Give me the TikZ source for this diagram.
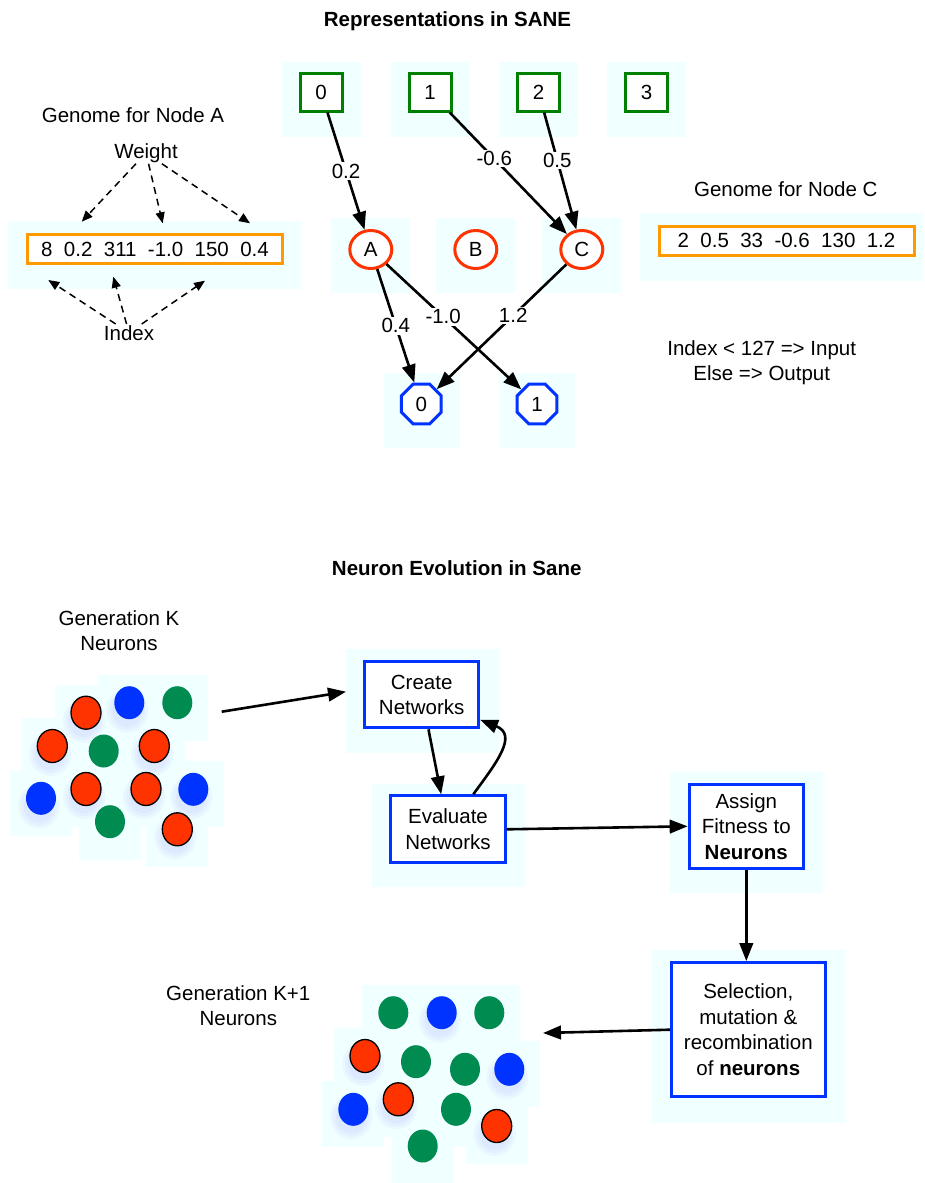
\documentclass[tikz,border=0pt]{standalone}
\usepackage{fontspec}
\setmainfont{Liberation Sans}
\usetikzlibrary{arrows.meta,shapes.geometric}
\definecolor{bgc}{RGB}{240,255,255}
\definecolor{ingreen}{RGB}{0,128,0}
\definecolor{hidred}{RGB}{255,51,0}
\definecolor{outblue}{RGB}{0,51,255}
\definecolor{genorange}{RGB}{255,153,0}
\definecolor{nred}{RGB}{255,51,0}
\definecolor{nblue}{RGB}{0,51,255}
\definecolor{ngreen}{RGB}{0,140,80}
\definecolor{glow}{RGB}{185,190,255}
\begin{document}
\begin{tikzpicture}[x=1pt,y=-1pt,
  every node/.style={font=\fontsize{20.5}{25.5}\selectfont},
  txt/.style={anchor=base,inner sep=1pt},
  ttl/.style={anchor=base,inner sep=1pt,font=\fontsize{20.5}{25.5}\selectfont\bfseries},
  bgbox/.style={rectangle,fill=bgc,draw=none,inner sep=0,outer sep=0},
  insq/.style={rectangle,draw=ingreen,line width=3pt,fill=white,minimum width=42,minimum height=38,inner sep=0},
  hidn/.style={ellipse,draw=hidred,line width=3pt,fill=white,minimum width=42,minimum height=38,inner sep=0},
  outn/.style={regular polygon,regular polygon sides=8,draw=outblue,line width=3pt,fill=white,minimum size=43,inner sep=0},
  genome/.style={rectangle,draw=genorange,line width=3pt,fill=white,minimum width=255,minimum height=29,inner sep=0},
  procbox/.style={rectangle,draw=outblue,line width=3pt,fill=white,align=center,inner sep=0},
  neuron/.style={ellipse,minimum width=30,minimum height=33,inner sep=0},
  wlab/.style={fill=white,inner sep=1.5pt},
  mainarrow/.style={line width=2.6pt,-{Triangle[length=18pt,width=13.5pt]}},
  dasharrow/.style={line width=1.5pt,dash pattern=on 7pt off 5pt,-{Triangle[length=11pt,width=9pt]}}
]
\useasboundingbox (0,0) rectangle (924,1183);

% ---------- titles ----------
\node[ttl] (t1) at (447.5,26.7) {Representations in SANE};
\node[ttl] (t2) at (456.7,575) {Neuron Evolution in Sane};

% ---------- light backgrounds of the network ----------
\foreach \x [count=\i from 0] in {321,430,538.5,646.5}
  \node[bgbox,minimum width=79,minimum height=75] (sqbg\i) at (\x,99.2) {};
\foreach \x/\n in {370.8/A,475.8/B,581.8/C}
  \node[bgbox,minimum width=79,minimum height=75] (hbg\n) at (\x,255.5) {};
\node[bgbox,minimum width=76,minimum height=75] (obg0) at (422,410.5) {};
\node[bgbox,minimum width=76,minimum height=75] (obg1) at (537,410.5) {};
\node[bgbox,minimum width=292.4,minimum height=68.3] (gAbg) at (154.5,255.2) {};
\node[bgbox,minimum width=283.3,minimum height=68] (gCbg) at (781.7,246.7) {};

% ---------- network nodes ----------
\foreach \x [count=\i from 0] in {321,430,538.5,646.5}
  \node[insq] (in\i) at (\x,92) {\i};
\node[hidn] (A) at (370.8,249.5) {A};
\node[hidn] (B) at (475.8,249.5) {B};
\node[hidn] (C) at (581.8,249.5) {C};
\node[outn] (out0) at (421.3,404) {0};
\node[outn] (out1) at (537,404) {1};

% ---------- network connections ----------
\draw[mainarrow] (in0) -- node[wlab,pos=0.5] {0.2} (A);
\draw[mainarrow] (in1) -- node[wlab,pos=0.38] {-0.6} (C);
\draw[mainarrow] (in2) -- node[wlab,pos=0.41] {0.5} (C);
\draw[mainarrow] (A) -- node[wlab,pos=0.5] {0.4} (out0);
\draw[mainarrow] (A) -- node[wlab,pos=0.42] {-1.0} (out1);
\draw[mainarrow] (C) -- node[wlab,pos=0.41] {1.2} (out0);

% ---------- genome of node A ----------
\node[txt] (gAt) at (133,122.3) {Genome for Node A};
\node[genome] (gA) at (155,249) {8~~0.2~~311~~-1.0~~150~~0.4};
\node[txt] (w) at (146,158.3) {Weight};
\node[txt] (idx) at (129,340) {Index};
\coordinate (w1) at (81.7,221.7);
\coordinate (w2) at (162.7,223.3);
\coordinate (w3) at (250,223.3);
\coordinate (i1) at (48.3,280);
\coordinate (i2) at (113.3,276.7);
\coordinate (i3) at (205,280.7);
\foreach \c in {w1,w2,w3} \draw[dasharrow] (w) -- (\c);
\foreach \c in {i1,i2,i3} \draw[dasharrow] (idx) -- (\c);

% ---------- genome of node C ----------
\node[txt] (gCt) at (785.8,196.7) {Genome for Node C};
\node[genome] (gC) at (786.5,240.7) {2~~0.5~~33~~-0.6~~130~~1.2};
\node[txt] (rule1) at (761.7,355) {Index < 127 => Input};
\node[txt] (rule2) at (761.7,380) {Else => Output};

% ---------- evolution loop: backgrounds ----------
\node[bgbox,minimum width=153.3,minimum height=104] (crbg) at (422.65,701.3) {};
\node[bgbox,minimum width=153.3,minimum height=103.3] (evbg) at (448.35,835.65) {};
\node[bgbox,minimum width=153.3,minimum height=121.6] (asbg) at (746.65,832.5) {};
\node[bgbox,minimum width=193.3,minimum height=173.3] (selbg) at (748.35,1036.65) {};

% neuron populations: backgrounds
\foreach \x/\y in {86/712.7,52.3/746,154.3/746,86/789,146/789,177.3/829.3,
                   129.3/702.7,41/798.3,193.3/789.3,177.3/702.7,103.7/751,110/821.7,
                   393.3/1012.7,489.3/1012.7,416/1061.7,465/1069.3,456/1109.3,422.7/1146,
                   441.7/1012.7,509.3/1069.3,353.3/1109.3,365/1056,398.3/1099.3,496.7/1126}
  \fill[bgc] (\x-31,\y-28) rectangle (\x+31,\y+38);

% soft shadows under the neurons
\foreach \x/\y in {86/712.7,52.3/746,154.3/746,86/789,146/789,177.3/829.3,
                   129.3/702.7,41/798.3,193.3/789.3,
                   441.7/1012.7,509.3/1069.3,353.3/1109.3,365/1056,398.3/1099.3,496.7/1126}
  \foreach \r in {1,4,7}
    \fill[glow,opacity=0.12] (\x-2,\y+8) ellipse [x radius=14+\r,y radius=15+\r];

% generation K
\foreach \x/\y [count=\i] in {86/712.7,52.3/746,154.3/746,86/789,146/789,177.3/829.3}
  \node[neuron,fill=nred,draw=black,line width=1.3pt] (kr\i) at (\x,\y) {};
\foreach \x/\y [count=\i] in {129.3/702.7,41/798.3,193.3/789.3}
  \node[neuron,fill=nblue] (kb\i) at (\x,\y) {};
\foreach \x/\y [count=\i] in {177.3/702.7,103.7/751,110/821.7}
  \node[neuron,fill=ngreen] (kg\i) at (\x,\y) {};

% generation K+1
\foreach \x/\y [count=\i] in {393.3/1012.7,489.3/1012.7,416/1061.7,465/1069.3,456/1109.3,422.7/1146}
  \node[neuron,fill=ngreen] (mg\i) at (\x,\y) {};
\foreach \x/\y [count=\i] in {441.7/1012.7,509.3/1069.3,353.3/1109.3}
  \node[neuron,fill=nblue] (mb\i) at (\x,\y) {};
\foreach \x/\y [count=\i] in {365/1056,398.3/1099.3,496.7/1126}
  \node[neuron,fill=nred,draw=black,line width=1.3pt] (mr\i) at (\x,\y) {};

\node[txt] (gk1) at (119,625.7) {Generation K};
\node[txt] (gk2) at (119,650) {Neurons};
\node[txt] (gm1) at (238.3,1000.7) {Generation K+1};
\node[txt] (gm2) at (238.3,1025) {Neurons};

% ---------- process boxes ----------
\node[procbox,minimum width=113.7,minimum height=66.3] (cr) at (421.7,694.7) {Create\\Networks};
\node[procbox,minimum width=114.4,minimum height=67] (ev) at (448,829.3) {Evaluate\\Networks};
\node[procbox,minimum width=114.3,minimum height=84.3] (as) at (746.3,826.3) {Assign\\Fitness to\\\textbf{Neurons}};
\node[procbox,minimum width=153.7,minimum height=134.3] (sel) at (748.3,1029.7) {Selection,\\mutation \&\\recombination\\of \textbf{neurons}};

% ---------- process flow ----------
\coordinate (genK) at (221.7,711.7);
\coordinate (genK1) at (543,1033);
\draw[mainarrow] (genK) -- ([yshift=9.6pt]crbg.west);
\draw[mainarrow] (cr) -- (ev);
\draw[mainarrow] ([xshift=25.3pt]ev.north) .. controls (497,762) and (518,735) .. ([yshift=-25pt]cr.east);
\draw[mainarrow] (ev.east) -- (as.west);
\draw[mainarrow] (as.south) -- (as.south |- sel.north);
\draw[mainarrow] (sel.west) -- (genK1);
\end{tikzpicture}
\end{document}
